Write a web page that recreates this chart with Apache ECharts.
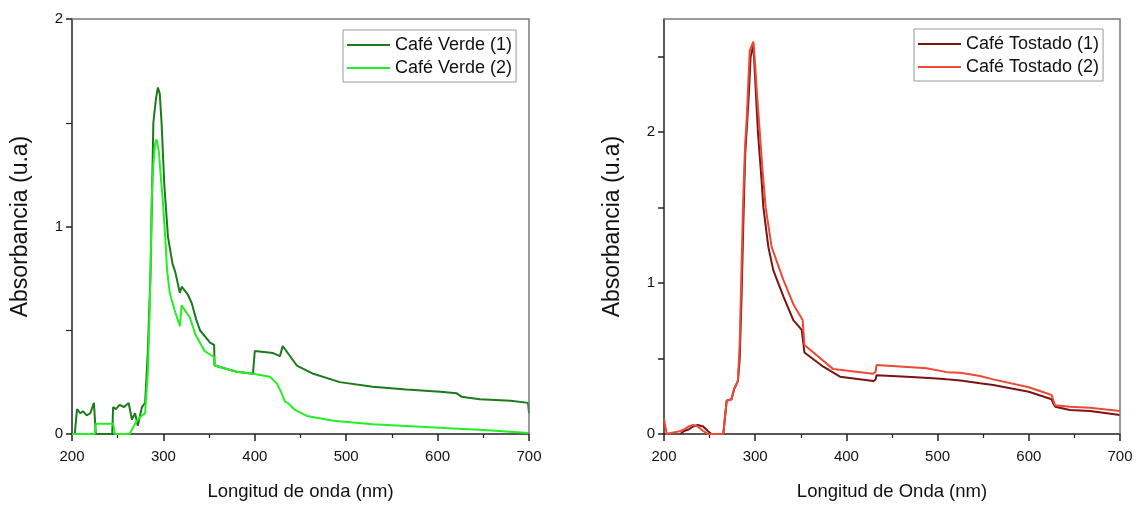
<!DOCTYPE html>
<html>
<head>
<meta charset="utf-8">
<script src="https://cdn.jsdelivr.net/npm/echarts@6/dist/echarts.min.js"></script>
<style>html,body{margin:0;padding:0;background:#fff}#c{width:1136px;height:508px}</style>
</head>
<body>
<div id="c"></div>
<script>
// ---- Data (wavelength nm, absorbance u.a.) ----
const verde1Nm = [203,205.5,209,212,216,220,224,226,244,245,248,252,257,262,265.5,269,272,276.5,280,283,286,289,292,294,296,298,301,305,310,313,318,320,327,331,336,340,351,355.5,356,380,398,400,420,427.5,430.5,446,464,493,529,566,603,621,626,646,680,699,700];
const verde1Abs = [0,0.12,0.1,0.11,0.09,0.1,0.15,0,0,0.13,0.12,0.14,0.13,0.15,0.07,0.1,0.04,0.13,0.15,0.4,0.79,1.5,1.62,1.67,1.64,1.5,1.2,0.95,0.82,0.78,0.68,0.71,0.67,0.63,0.55,0.5,0.44,0.43,0.33,0.3,0.29,0.4,0.39,0.375,0.424,0.33,0.29,0.25,0.228,0.215,0.204,0.196,0.18,0.167,0.16,0.15,0.1];

const verde2Nm = [200,225,226,245,247,263,269,274,280,283,285,286,287,289,291,292.6,295,297,299.6,302,304,307,312,318,320,329,335,345,355.5,356,380,398,416.6,424,429,433,436,444,457,486,529,566,617,646,700];
const verde2Abs = [0,0,0.05,0.05,0,0,0.05,0.08,0.1,0.3,0.6,0.79,1.11,1.3,1.4,1.42,1.36,1.25,1.11,0.95,0.79,0.68,0.6,0.52,0.62,0.56,0.48,0.4,0.37,0.33,0.3,0.29,0.276,0.245,0.2,0.156,0.15,0.116,0.087,0.064,0.047,0.039,0.027,0.02,0.005];

const tostado1Nm = [218,222,227,232,237,243,248,252,265,268.7,274,277,281,283,285,287,289,291,293,295,298,300,303,307,309,314.4,319.8,331,341.8,351,353,354,374.7,393,429.5,432,433,466,495,510,525,546.5,561,600,625,627,629,645,667,700];
const tostado1Abs = [0,0.02,0.03,0.05,0.06,0.05,0.02,0,0,0.22,0.23,0.3,0.35,0.5,0.9,1.4,1.85,2.05,2.25,2.5,2.58,2.35,2.0,1.68,1.5,1.24,1.086,0.91,0.755,0.69,0.68,0.54,0.446,0.38,0.351,0.36,0.39,0.38,0.37,0.362,0.355,0.336,0.325,0.28,0.23,0.2,0.18,0.159,0.152,0.126];

const tostado2Nm = [200,203,218,222,227,232,237,243,248,252,265,268.7,274,277,281,283,285,286.6,288.8,290.6,294,295,298,299.8,302,305,308,311.5,318,331,341.8,352,354,385.6,429,432,433,488,510,525,546.5,561,600,625,628.7,645,667,700];
const tostado2Abs = [0.1,0,0.02,0.03,0.05,0.06,0.05,0.02,0,0,0,0.22,0.23,0.3,0.35,0.6,1.1,1.5,1.9,2.08,2.54,2.55,2.6,2.46,2.25,2.0,1.75,1.5,1.24,1.02,0.86,0.755,0.59,0.43,0.40,0.41,0.457,0.435,0.41,0.406,0.384,0.362,0.31,0.258,0.19,0.18,0.174,0.152];

const xTicks = [200,300,400,500,600,700];
const leftYTicks = [0,1,2];
const rightYTicks = [0,1,2];

const zip = (a,b) => a.map((v,i)=>[v,b[i]]);
const FONT = '"Liberation Sans", Arial, sans-serif';
const AX = '#222';
const BOX = '#7a7a7a';

function xAxis(gi, name){
  return {
    type:'value', gridIndex:gi, min:200, max:700, interval:100, position:'bottom',
    name:name, nameLocation:'middle', nameGap:48,
    nameTextStyle:{fontFamily:FONT,fontSize:18.5,color:'#111'},
    axisLine:{show:true,onZero:false,lineStyle:{color:AX,width:1.5}},
    axisTick:{show:true,inside:false,length:7,lineStyle:{color:AX,width:1.5}},
    minorTick:{show:true,splitNumber:2,length:4,lineStyle:{color:AX,width:1.2}},
    axisLabel:{fontFamily:FONT,fontSize:15,color:'#111',margin:15,
      formatter:v=>xTicks.includes(v)?String(v):''},
    splitLine:{show:false}
  };
}
function yLeft(gi,max,interval,ticks,minor){
  return {type:'value',gridIndex:gi,min:0,max:max,interval:interval,position:'left',
     name:'Absorbancia (u.a)',nameLocation:'middle',nameGap:40,nameRotate:90,
     nameTextStyle:{fontFamily:FONT,fontSize:23,color:'#111'},
     axisLine:{show:true,onZero:false,lineStyle:{color:AX,width:1.5}},
     axisTick:{show:true,length:6,lineStyle:{color:AX,width:1.5}},
     minorTick:{show:minor,splitNumber:2,length:6,lineStyle:{color:AX,width:1.2}},
     axisLabel:{fontFamily:FONT,fontSize:15,color:'#111',margin:9,showMaxLabel:minor,
       formatter:v=>ticks.includes(v)?String(v):''},
     splitLine:{show:false}};
}
function legend(left,top,names){
  return {orient:'vertical',left:left,top:top,data:names,icon:'rect',
     itemWidth:43,itemHeight:2,itemGap:5,padding:[6,4,5,4],
     borderColor:'#999',borderWidth:1,backgroundColor:'#fff',
     textStyle:{fontFamily:FONT,fontSize:18,color:'#111',padding:[0,0,0,0]}};
}

const option = {
  animation:false,
  backgroundColor:'#fff',
  grid:[
    {left:72,right:607,top:19,bottom:74},
    {left:664,right:16,top:19,bottom:74}
  ],
  legend:[
    legend(343,30,['Café Verde (1)','Café Verde (2)']),
    legend(914,29,['Café Tostado (1)','Café Tostado (2)'])
  ],
  xAxis:[xAxis(0,'Longitud de onda (nm)'), xAxis(1,'Longitud de Onda (nm)')],
  yAxis:[yLeft(0,2,1,leftYTicks,true), yLeft(1,2.75,0.5,rightYTicks,false)],
  series:[
    {name:'Café Verde (1)',type:'line',xAxisIndex:0,yAxisIndex:0,symbol:'none',
     data:zip(verde1Nm,verde1Abs),lineStyle:{color:'#1b7a1b',width:2},itemStyle:{color:'#1b7a1b'}},
    {name:'Café Verde (2)',type:'line',xAxisIndex:0,yAxisIndex:0,symbol:'none',
     data:zip(verde2Nm,verde2Abs),lineStyle:{color:'#22f022',width:2},itemStyle:{color:'#22f022'}},
    {name:'Café Tostado (1)',type:'line',xAxisIndex:1,yAxisIndex:1,symbol:'none',
     data:zip(tostado1Nm,tostado1Abs),lineStyle:{color:'#7a1414',width:2},itemStyle:{color:'#7a1414'}},
    {name:'Café Tostado (2)',type:'line',xAxisIndex:1,yAxisIndex:1,symbol:'none',
     data:zip(tostado2Nm,tostado2Abs),lineStyle:{color:'#ec4a36',width:2},itemStyle:{color:'#ec4a36'}}
  ]
};
const chart = echarts.init(document.getElementById('c'),null,{renderer:'canvas'});
chart.setOption(option);

// Frame (top + right edges) derived from each grid's own axis scales
const frames = [
  {finder:{xAxisIndex:0,yAxisIndex:0}, lo:[200,0], hi:[700,2]},
  {finder:{xAxisIndex:1,yAxisIndex:1}, lo:[200,0], hi:[700,2.75]}
];
const graphics = frames.map(f=>{
  const p0 = chart.convertToPixel(f.finder, f.lo);
  const p1 = chart.convertToPixel(f.finder, f.hi);
  return {type:'polyline', silent:true, z:100,
    shape:{points:[[p0[0],p1[1]],[p1[0],p1[1]],[p1[0],p0[1]]]},
    style:{fill:null, stroke:BOX, lineWidth:1.5}};
});
chart.setOption({graphic:graphics});
</script>
</body>
</html>
